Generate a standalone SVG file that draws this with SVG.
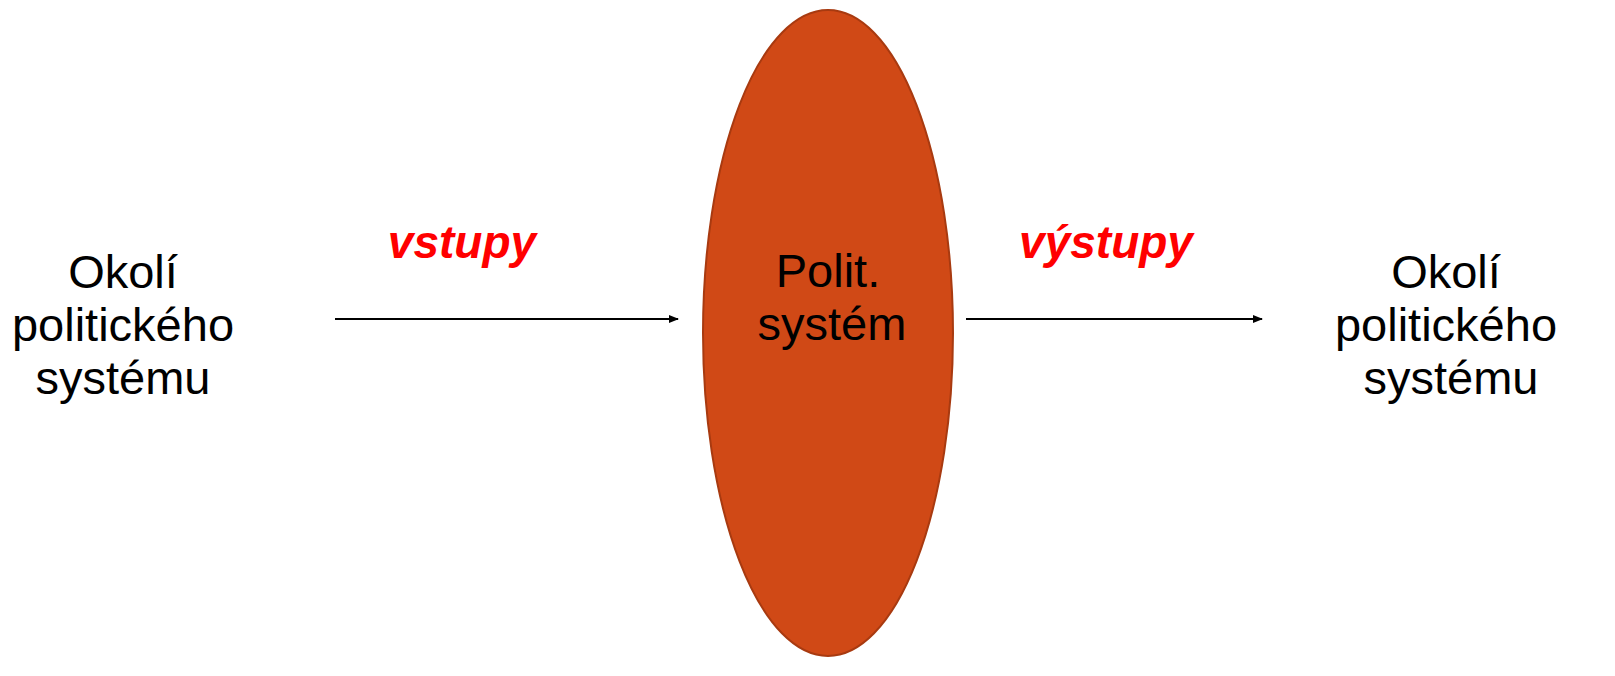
<svg xmlns="http://www.w3.org/2000/svg" width="1615" height="676" viewBox="0 0 1615 676">
<style>
.t{font-family:"Liberation Sans",Arial,sans-serif;font-size:47px;fill:#000;text-anchor:middle}
.l{font-family:"Liberation Sans",Arial,sans-serif;font-size:46px;font-weight:bold;font-style:italic;fill:#FF0000;text-anchor:middle}
.c{stroke:#000;stroke-width:2.2;fill:none;marker-end:url(#ah)}
</style>
<defs>
<marker id="ah" markerWidth="10" markerHeight="8" refX="9" refY="4" orient="auto" markerUnits="userSpaceOnUse">
<path d="M0,0 L10,4 L0,8 Z" fill="#000"/>
</marker>
</defs>
<rect width="1615" height="676" fill="#fff"/>
<g id="connectors">
<line class="c" x1="335" y1="319" x2="678" y2="319"/>
<line class="c" x1="966" y1="319" x2="1262" y2="319"/>
<text class="l" x="462" y="258">vstupy</text>
<text class="l" x="1106" y="258">výstupy</text>
</g>
<g id="okoli-left">
<text class="t" x="123" y="288">Okolí</text>
<text class="t" x="123" y="341">politického</text>
<text class="t" x="123" y="394">systému</text>
</g>
<g id="polit-system">
<ellipse cx="828" cy="333" rx="125" ry="323" fill="#D04916" stroke="#A83A10" stroke-width="2"/>
<text class="t" x="828" y="287">Polit.</text>
<text class="t" x="832" y="340">systém</text>
</g>
<g id="okoli-right">
<text class="t" x="1446" y="288">Okolí</text>
<text class="t" x="1446" y="341">politického</text>
<text class="t" x="1451" y="394">systému</text>
</g>
</svg>
